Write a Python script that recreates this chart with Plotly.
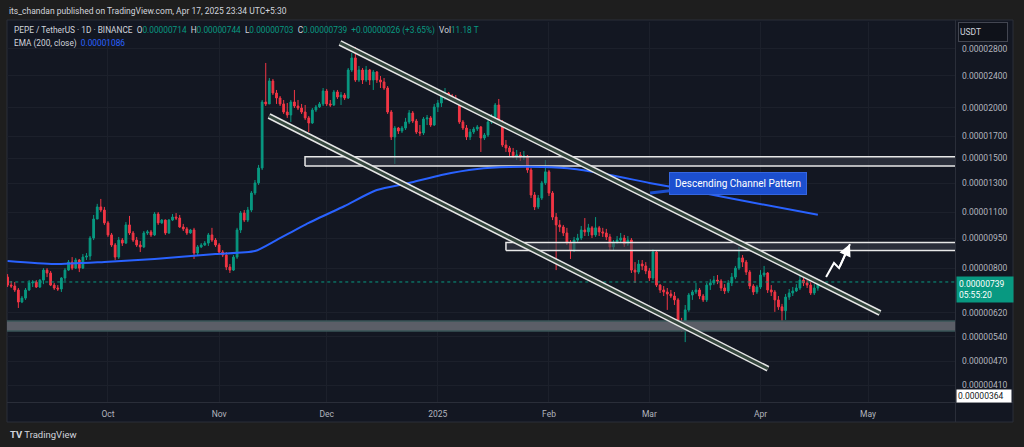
import math
import pandas as pd
import plotly.graph_objects as go

# ---------------- data (prices in units of 1e-8 USDT) ----------------
START_DATE = "2024-09-03"
FIRST_OPEN = 760

CLOSE = [
    726, 722, 706, 659, 674, 706, 735, 739, 718, 747,
    791, 778, 726, 714, 710, 756, 791, 828, 800, 838,
    800, 852, 857, 950, 1059, 1135, 1115, 1036, 967, 913,
    852, 939, 923, 1024, 978, 939, 913, 903, 978, 984,
    967, 1090, 1036, 1053, 978, 1053, 1071, 1065, 1012, 1001,
    978, 995, 872, 903, 913, 923, 967, 939, 913, 877,
    862, 805, 791, 852, 995, 1096, 1053, 1115, 1229, 1302,
    1418, 2068, 2045, 2332, 2177, 2116, 2045, 1953, 1920, 2068,
    2021, 1998, 1953, 1888, 1834, 1975, 2010, 2045, 2202, 2045,
    2033, 2190, 2128, 2152, 2116, 2483, 2660, 2345, 2483, 2345,
    2483, 2345, 2455, 2345, 2319, 2240, 1953, 1693, 1782, 1752,
    1782, 1845, 1942, 1855, 1742, 1732, 1877, 1888, 1813, 2010,
    2056, 2152, 2177, 2140, 2116, 2080, 1845, 1782, 1693, 1742,
    1772, 1793, 1683, 1712, 1845, 1898, 2033, 1845, 1617, 1590,
    1554, 1518, 1527, 1510, 1518, 1402, 1215, 1135, 1194, 1302,
    1387, 1229, 1071, 1024, 1012, 978, 923, 887, 939, 950,
    995, 984, 1007, 967, 1007, 984, 978, 956, 903, 929,
    939, 950, 918, 939, 791, 782, 819, 810, 787, 756,
    877, 726, 706, 698, 690, 682, 667, 575, 568, 630,
    686, 698, 706, 682, 667, 726, 735, 747, 743, 714,
    702, 735, 760, 800, 848, 828, 782, 722, 698, 718,
    769, 778, 706, 698, 667, 641, 627, 678, 694, 702,
    714, 747, 735, 726, 694, 714, 739,
]

HIGH = [
    773, 743, 739, 714, 682, 714, 747, 747, 747, 751,
    800, 800, 787, 735, 726, 760, 800, 838, 852, 848,
    843, 867, 872, 961, 1084, 1155, 1188, 1135, 1047, 978,
    923, 956, 950, 1041, 1078, 989, 956, 934, 989, 995,
    995, 1102, 1102, 1059, 1056, 1059, 1090, 1096, 1084, 1030,
    1012, 1001, 1007, 913, 923, 934, 978, 1007, 950, 923,
    887, 877, 819, 862, 1007, 1109, 1115, 1135, 1243, 1324,
    1443, 2092, 2585, 2372, 2359, 2215, 2140, 2092, 2056, 2092,
    2215, 2092, 2045, 2033, 1909, 1998, 2033, 2068, 2240, 2228,
    2092, 2215, 2215, 2190, 2177, 2512, 2737, 2832, 2541, 2512,
    2541, 2498, 2483, 2469, 2399, 2372, 2266, 1975, 1803, 1793,
    1803, 1888, 1975, 1964, 1877, 1813, 1898, 1920, 1909, 2045,
    2092, 2190, 2240, 2190, 2165, 2152, 2092, 1866, 1813, 1772,
    1793, 1813, 1803, 1732, 1866, 1931, 2056, 2104, 1866, 1664,
    1608, 1590, 1572, 1554, 1563, 1527, 1418, 1236, 1215, 1317,
    1484, 1402, 1243, 1096, 1053, 1024, 1007, 939, 956, 973,
    1018, 1065, 1030, 1018, 1071, 1018, 1007, 1001, 973, 939,
    961, 978, 967, 961, 950, 828, 838, 838, 828, 800,
    892, 887, 730, 722, 714, 706, 698, 674, 602, 648,
    694, 706, 735, 714, 690, 735, 751, 765, 769, 751,
    730, 747, 778, 810, 903, 862, 838, 791, 730, 726,
    791, 810, 782, 726, 706, 682, 652, 690, 710, 718,
    730, 765, 778, 747, 739, 730, 744,
]

LOW = [
    718, 714, 698, 637, 655, 667, 702, 718, 714, 714,
    730, 760, 722, 706, 702, 698, 743, 787, 791, 796,
    782, 796, 838, 838, 939, 1059, 1102, 1024, 956, 903,
    838, 843, 908, 918, 967, 929, 903, 877, 897, 967,
    956, 961, 1024, 1030, 967, 973, 1047, 1053, 1007, 989,
    967, 973, 843, 862, 897, 908, 908, 929, 903, 867,
    852, 791, 778, 787, 843, 978, 1041, 1041, 1102, 1215,
    1287, 1402, 2021, 2045, 2152, 2045, 2021, 1931, 1888, 1845,
    1998, 1975, 1931, 1866, 1742, 1824, 1953, 1998, 2021, 2021,
    2010, 2021, 2104, 2033, 2092, 2104, 2455, 2319, 2319, 2292,
    2319, 2279, 2215, 2306, 2240, 2215, 1931, 1664, 1451, 1722,
    1732, 1762, 1824, 1834, 1722, 1703, 1712, 1813, 1793, 1803,
    1953, 2010, 2092, 2116, 2068, 2045, 1824, 1762, 1664, 1664,
    1722, 1752, 1554, 1664, 1693, 1824, 1866, 1824, 1599, 1554,
    1518, 1501, 1484, 1476, 1484, 1379, 1194, 1115, 1122, 1181,
    1287, 1208, 1053, 791, 984, 961, 913, 843, 877, 929,
    939, 961, 961, 950, 956, 961, 956, 939, 887, 887,
    918, 923, 903, 908, 778, 735, 773, 791, 773, 743,
    747, 718, 694, 682, 630, 674, 648, 568, 556, 524,
    623, 667, 690, 670, 659, 659, 706, 726, 730, 702,
    690, 694, 722, 751, 791, 805, 769, 710, 686, 690,
    710, 760, 694, 682, 623, 630, 572, 595, 667, 682,
    698, 706, 722, 714, 686, 686, 703,
]

EMA_DATES = ["2024-09-03", "2024-09-16", "2024-09-30", "2024-10-14", "2024-10-31",
             "2024-11-11", "2024-11-17", "2024-11-26", "2024-12-06", "2024-12-15",
             "2024-12-24", "2025-01-02", "2025-01-12", "2025-01-21", "2025-01-30",
             "2025-02-08", "2025-02-18", "2025-03-01", "2025-03-15", "2025-03-29",
             "2025-04-17"]
EMA_VALUES = [833, 819, 829, 843, 867, 882, 939, 1036, 1141, 1250,
              1302, 1363, 1410, 1426, 1426, 1410, 1363, 1302, 1235, 1167, 1086]

# drawings (date, price)
UPPER_CHANNEL = [("2024-12-04 17:00", 2898), ("2025-05-04 08:00", 619)]
LOWER_CHANNEL = [("2024-11-14 22:00", 1909), ("2025-04-03 02:00", 450)]
ZONE_1 = ("2024-11-24 23:00", 1434, 1513)
ZONE_2 = ("2025-01-20 00:00", 885, 926)
ZONE_3 = ("2024-08-01 00:00", 558, 591)
ZONE_END = "2025-07-31"
ARROW_DATES = ["2025-04-19 07:00", "2025-04-21 12:00", "2025-04-22 22:00", "2025-04-25 23:00"]
ARROW_PRICES = [760, 824, 800, 918]
CALLOUT_POINT = ("2025-03-01 05:00", 1229)
LAST_PRICE = 739
BOTTOM_PRICE = 364

Y_TICKS = [2800, 2400, 2000, 1700, 1500, 1300, 1100, 950, 800, 620, 540, 470, 410]
X_TICKS = ["2024-10-01", "2024-11-01", "2024-12-01", "2025-01-01",
           "2025-02-01", "2025-03-01", "2025-04-01", "2025-05-01"]
X_TICK_TEXT = ["Oct", "Nov", "Dec", "2025", "Feb", "Mar", "Apr", "May"]

SCALE = 1e-8

# ---------------- build ----------------
n = min(len(CLOSE), len(HIGH), len(LOW))
dates = pd.date_range(START_DATE, periods=n, freq="D")
close = [c * SCALE for c in CLOSE[:n]]
high = [h * SCALE for h in HIGH[:n]]
low = [l * SCALE for l in LOW[:n]]
opens = [FIRST_OPEN * SCALE] + close[:-1]

W, H = 1024, 447
ML, MR, MT, MB = 7, 69, 22, 45
PW, PH = W - ML - MR, H - MT - MB


def px(x):
    return (x - ML) / PW


def py(y):
    return 1 - (y - MT) / PH


BG = "#131722"
OUTER = "#1e1e1e"
GREEN = "#089981"
RED = "#f23645"
FONT = "Roboto"

fig = go.Figure()

# zones
for (start, lo, hi), fill, lc in [
    (ZONE_3, "#5b5e67", "#3a5558"),
    (ZONE_1, "rgba(60,64,76,0.55)", "#e8e8e8"),
    (ZONE_2, "rgba(60,64,76,0.55)", "#e8e8e8"),
]:
    fig.add_trace(go.Scatter(
        x=[start, ZONE_END, ZONE_END, start, start],
        y=[lo * SCALE, lo * SCALE, hi * SCALE, hi * SCALE, lo * SCALE],
        mode="lines", fill="toself", fillcolor=fill,
        line=dict(color=lc, width=1.5), hoverinfo="skip", showlegend=False))

# last price dotted line
fig.add_trace(go.Scatter(
    x=["2024-08-01", ZONE_END], y=[LAST_PRICE * SCALE] * 2, mode="lines",
    line=dict(color=GREEN, width=1, dash="dot"), hoverinfo="skip", showlegend=False))

# EMA
fig.add_trace(go.Scatter(
    x=EMA_DATES, y=[v * SCALE for v in EMA_VALUES], mode="lines",
    line=dict(color="#2962ff", width=2, shape="spline", smoothing=0.6),
    hoverinfo="skip", showlegend=False))

# candles
fig.add_trace(go.Candlestick(
    x=dates, open=opens, high=high, low=low, close=close,
    increasing=dict(line=dict(color=GREEN, width=1), fillcolor=GREEN),
    decreasing=dict(line=dict(color=RED, width=1), fillcolor=RED),
    whiskerwidth=0, hoverinfo="skip", showlegend=False))

# channels
for ch in (UPPER_CHANNEL, LOWER_CHANNEL):
    xs = [p[0] for p in ch]
    ys = [p[1] * SCALE for p in ch]
    fig.add_trace(go.Scatter(x=xs, y=ys, mode="lines",
                             line=dict(color="#e6e6e6", width=6),
                             hoverinfo="skip", showlegend=False))
    fig.add_trace(go.Scatter(x=xs, y=ys, mode="lines",
                             line=dict(color="#34463d", width=3),
                             hoverinfo="skip", showlegend=False))

# arrow
fig.add_trace(go.Scatter(x=ARROW_DATES, y=[p * SCALE for p in ARROW_PRICES], mode="lines",
                         line=dict(color="white", width=2), hoverinfo="skip", showlegend=False))

shapes = [
    dict(type="rect", xref="paper", yref="paper", x0=px(7), x1=px(1013), y0=py(422), y1=py(20),
         fillcolor=BG, line=dict(color="#2a2e39", width=1), layer="below"),
    dict(type="line", xref="paper", yref="paper", x0=px(955.5), x1=px(955.5), y0=py(422), y1=py(20),
         line=dict(color="#2a2e39", width=1)),
    dict(type="line", xref="paper", yref="paper", x0=px(7), x1=px(1013), y0=py(402.5), y1=py(402.5),
         line=dict(color="#2a2e39", width=1)),
]

gray = "#b2b5be"
ann = []
ann.append(dict(xref="paper", yref="paper", x=px(7), y=py(11), xanchor="left", yanchor="middle",
                text="its_chandan published on TradingView.com, Apr 17, 2025 23:34 UTC+5:30",
                showarrow=False, font=dict(family=FONT, size=8.5, color="#d1d4dc")))


def v(s):
    return f"<span style='color:{GREEN}'>{s}</span>"


hdr = ("PEPE / TetherUS · 1D · BINANCE&nbsp;&nbsp;O" + v("0.00000714") + "&nbsp;&nbsp;H" + v("0.00000744")
       + "&nbsp;&nbsp;L" + v("0.00000703") + "&nbsp;&nbsp;C" + v("0.00000739") + "&nbsp;&nbsp;"
       + v("+0.00000026 (+3.65%)") + "&nbsp;&nbsp;Vol" + v("11.18 T"))
ann.append(dict(xref="paper", yref="paper", x=px(12), y=py(30.5), xanchor="left", yanchor="middle",
                text=hdr, showarrow=False, font=dict(family=FONT, size=8.3, color="#d1d4dc")))
ann.append(dict(xref="paper", yref="paper", x=px(12), y=py(43.5), xanchor="left", yanchor="middle",
                text="EMA (200, close)&nbsp;&nbsp;<span style='color:#2962ff'>0.00001086</span>",
                showarrow=False, font=dict(family=FONT, size=8.3, color="#d1d4dc")))

# USDT box
ann.append(dict(xref="paper", yref="paper", x=px(958), y=py(31.5), xanchor="left", yanchor="middle",
                text="USDT", showarrow=False, align="left", width=46, height=16,
                bgcolor="#0f121a", bordercolor="#434651", borderwidth=1, borderpad=1,
                font=dict(family=FONT, size=8.5, color="#d1d4dc")))
# last price label
ann.append(dict(xref="paper", yref="paper", x=px(955.5), y=py(289), xanchor="left", yanchor="middle",
                text=f"0.{LAST_PRICE:08d}<br>05:55:20", showarrow=False, align="left",
                width=52, bgcolor=GREEN, borderpad=2, font=dict(family=FONT, size=8.5, color="white")))
# bottom price label
ann.append(dict(xref="paper", yref="paper", x=px(955.5), y=py(396), xanchor="left", yanchor="middle",
                text=f"0.{BOTTOM_PRICE:08d}", showarrow=False, align="left", width=52,
                bgcolor="white", borderpad=1, font=dict(family=FONT, size=8.5, color="#131722")))
# callout
ann.append(dict(x=CALLOUT_POINT[0], y=math.log10(CALLOUT_POINT[1] * SCALE), xref="x", yref="y",
                text="Descending Channel Pattern", showarrow=True, ax=88, ay=-10,
                arrowhead=0, arrowwidth=3, arrowcolor="#1c4fcf", standoff=0,
                bgcolor="#1c4fcf", bordercolor="#3566e0", borderwidth=1, borderpad=5,
                font=dict(family=FONT, size=10, color="white")))
# arrow head
ann.append(dict(x=ARROW_DATES[-1], y=math.log10(ARROW_PRICES[-1] * SCALE), xref="x", yref="y",
                ax=ARROW_DATES[-2], ay=math.log10(ARROW_PRICES[-2] * SCALE), axref="x", ayref="y",
                text="", showarrow=True, arrowhead=2, arrowsize=1.2, arrowwidth=2, arrowcolor="white"))
# logo
ann.append(dict(xref="paper", yref="paper", x=px(8), y=py(434), xanchor="left", yanchor="middle",
                text="<b>TV</b> TradingView", showarrow=False,
                font=dict(family=FONT, size=9.5, color="#d1d4dc")))

fig.update_layout(
    width=W, height=H, margin=dict(l=ML, r=MR, t=MT, b=MB),
    paper_bgcolor=OUTER, plot_bgcolor=BG,
    shapes=shapes, annotations=ann, showlegend=False,
    xaxis=dict(type="date", range=["2024-09-02 20:00", "2025-05-25 06:00"],
               tickvals=X_TICKS, ticktext=X_TICK_TEXT, showgrid=True, gridcolor="#1c202b",
               gridwidth=1, zeroline=False, showline=False, ticks="",
               tickfont=dict(family=FONT, size=8.5, color=gray),
               rangeslider=dict(visible=False), ticklabelstandoff=5, fixedrange=True),
    yaxis=dict(type="log", side="right",
               range=[math.log10(372.1 * SCALE), math.log10(3267 * SCALE)],
               tickvals=[t * SCALE for t in Y_TICKS], ticktext=[f"0.{t:08d}" for t in Y_TICKS],
               showgrid=True, gridcolor="#1c202b", gridwidth=1, zeroline=False, showline=False,
               ticks="", tickfont=dict(family=FONT, size=8.5, color=gray),
               ticklabelstandoff=6, fixedrange=True),
    hovermode=False,
)

fig.write_html(
    "out.html",
    config={"displayModeBar": False},
    post_script="document.body.style.margin='0';document.body.style.background='#1e1e1e';",
)
